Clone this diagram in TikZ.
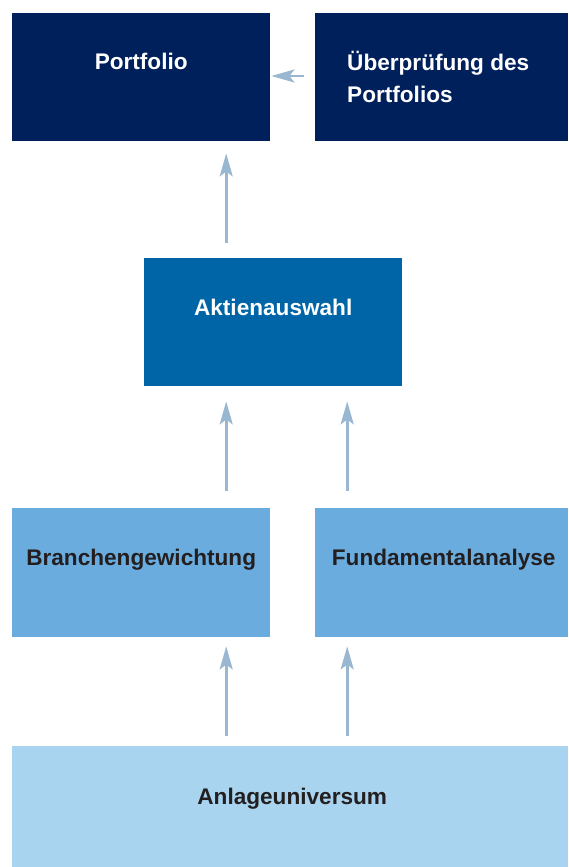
\documentclass[tikz,border=0pt]{standalone}
\usepackage{fontspec}
\setmainfont{Liberation Sans}
\usetikzlibrary{arrows.meta,calc}
\definecolor{navy}{HTML}{00205B}
\definecolor{midblue}{HTML}{0065A6}
\definecolor{lightblue}{HTML}{6AACDE}
\definecolor{paleblue}{HTML}{A9D4EF}
\definecolor{arrowblue}{HTML}{9AB7D2}
\definecolor{darktext}{HTML}{231F20}
\begin{document}
\begin{tikzpicture}[x=1pt,y=-1pt,
  box/.style={draw=none, inner sep=0pt, anchor=north west},
  lbl/.style={font=\fontsize{22.6}{32}\selectfont\bfseries, inner sep=0pt, anchor=base},
  arr/.style={draw=arrowblue, line width=2.7pt, -{Stealth[length=23pt,width=13pt,inset=5pt]}}]
\useasboundingbox[fill=white] (0,0) rectangle (568,867);
% boxes
\node[box, fill=navy, minimum width=258pt, minimum height=128pt] (port) at (12,13) {};
\node[box, fill=navy, minimum width=253pt, minimum height=128pt] (ueber) at (315,13) {};
\node[box, fill=midblue, minimum width=258pt, minimum height=128pt] (akt) at (144,258) {};
\node[box, fill=lightblue, minimum width=258pt, minimum height=129pt] (branch) at (12,508) {};
\node[box, fill=lightblue, minimum width=253pt, minimum height=129pt] (fund) at (315,508) {};
\node[box, fill=paleblue, minimum width=556pt, minimum height=121pt] (anlage) at (12,746) {};
% labels
\node[lbl, text=white] (portT) at ($(port.north)+(0,56.5)$) {Portfolio};
\node[lbl, text=white, anchor=base west, align=left] (ueberT) at ($(ueber.north west)+(32,89)$) {Überprüfung des\\Portfolios};
\node[lbl, text=white] (aktT) at ($(akt.north)+(0,57)$) {Aktienauswahl};
\node[lbl, text=darktext] (branchT) at ($(branch.north)+(0,57)$) {Branchengewichtung};
\node[lbl, text=darktext] (fundT) at ($(fund.north)+(2,57)$) {Fundamentalanalyse};
\node[lbl, text=darktext] (anlageT) at ($(anlage.north)+(2,58)$) {Anlageuniversum};
% arrows
\draw[arr, shorten <=11pt, shorten >=1pt] (ueber.west |- 0,76) -- (port.east |- 0,76);
\draw[arr, shorten <=15pt, shorten >=12pt] ([xshift=-47pt]akt.north) -- ([xshift=-47pt]akt.north |- port.south);
\draw[arr, shorten <=17pt, shorten >=15pt] ([xshift=85pt]branch.north) -- ([xshift=85pt]branch.north |- akt.south);
\draw[arr, shorten <=17pt, shorten >=15pt] ([xshift=-94.5pt]fund.north) -- ([xshift=-94.5pt]fund.north |- akt.south);
\draw[arr, shorten <=10pt, shorten >=9pt] ([xshift=85pt]branch.north |- anlage.north) -- ([xshift=85pt]branch.south);
\draw[arr, shorten <=10pt, shorten >=9pt] ([xshift=-94.5pt]fund.north |- anlage.north) -- ([xshift=-94.5pt]fund.south);
\end{tikzpicture}
\end{document}
